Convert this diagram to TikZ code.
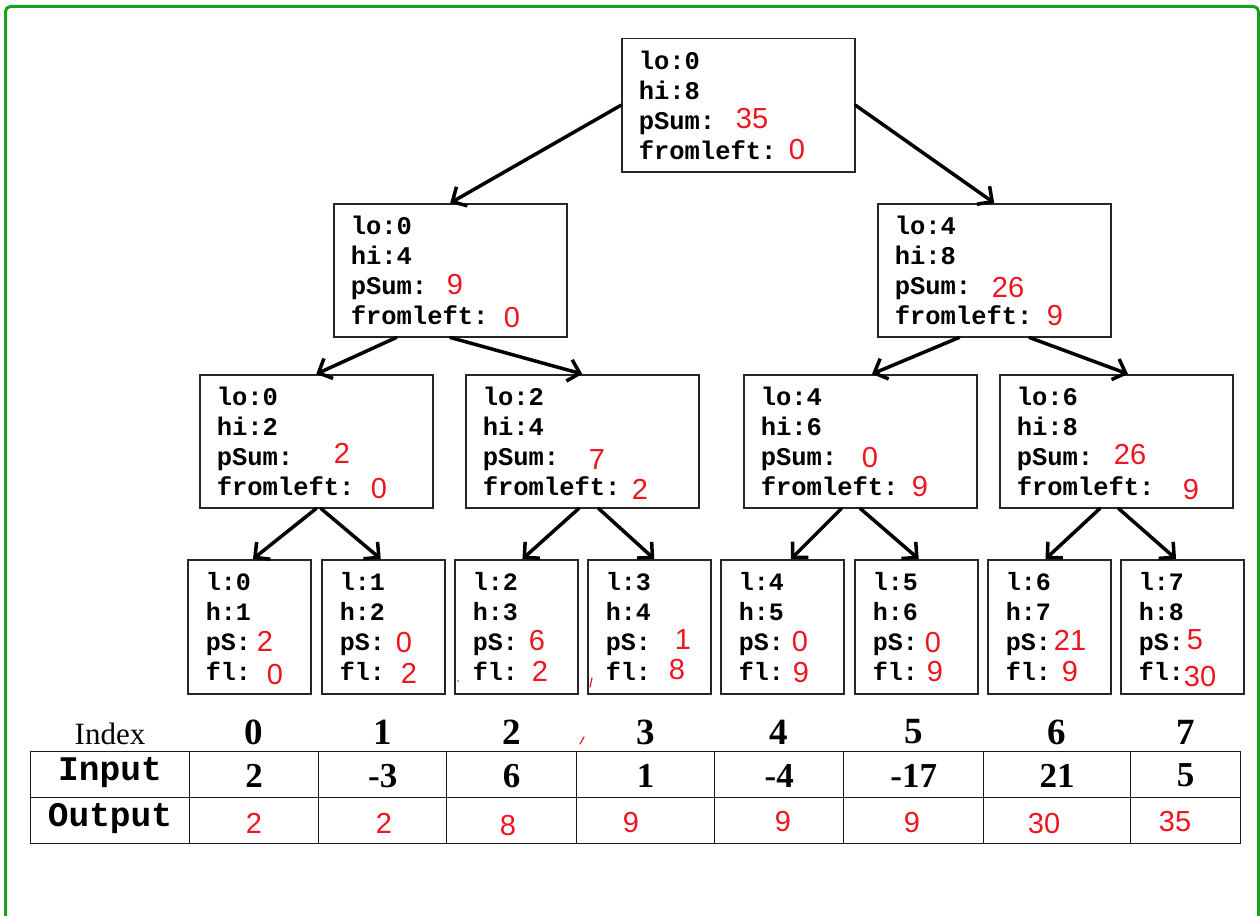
\documentclass[tikz,border=0pt]{standalone}
\usepackage{fontspec}
\newfontfamily\monofont{Liberation Mono}
\newfontfamily\serifont{Liberation Serif}
\newfontfamily\handfont{Liberation Sans}
\usetikzlibrary{arrows.meta,calc}
\definecolor{frame}{RGB}{26,160,26}
\definecolor{ink}{RGB}{240,20,30}
\begin{document}
\begin{tikzpicture}[x=1pt,y=-1pt,
  bigbox/.style={draw=black!85, line width=1.5pt, align=left, inner xsep=17pt, inner ysep=0pt,
    minimum height=133pt, text width=199pt, anchor=north west,
    font=\monofont\bfseries\fontsize{25.5}{30}\selectfont},
  leafbox/.style={draw=black!85, line width=1.5pt, align=left, inner xsep=18pt, inner ysep=0pt,
    minimum height=134pt, text width=87pt, anchor=north west,
    font=\monofont\bfseries\fontsize{25}{30}\selectfont},
  arr/.style={-{Straight Barb[length=11pt,width=22pt]}, line width=3.5pt, line cap=round},
  rv/.style={text=ink, inner sep=0pt, font=\handfont\fontsize{29}{30}\selectfont},
  cell/.style={draw=black!90, line width=1.4pt, minimum height=46pt, inner sep=0pt, anchor=north west},
  idx/.style={inner sep=0pt, font=\serifont\bfseries\fontsize{37}{40}\selectfont},
  inval/.style={inner sep=0pt, font=\serifont\bfseries\fontsize{35}{38}\selectfont},
  lab/.style={inner sep=0pt, font=\monofont\bfseries\fontsize{34.5}{36}\selectfont},
  stroke/.style={draw=ink, line width=1.2pt, line cap=round}
]
\useasboundingbox (0,0) rectangle (1260,915);
\draw[frame, line width=3pt, rounded corners=5pt] (5.5,6.5) -- (1258.5,6.5) -- (1258.5,930) -- (5.5,930) -- cycle;

% tree boxes
\node[bigbox] (root) at (621,38) {lo:0\\hi:8\\pSum:\\fromleft:};
\node[bigbox] (l1a) at (333,203) {lo:0\\hi:4\\pSum:\\fromleft:};
\node[bigbox] (l1b) at (877,203) {lo:4\\hi:8\\pSum:\\fromleft:};
\node[bigbox] (A) at (199,374) {lo:0\\hi:2\\pSum:\\fromleft:};
\node[bigbox] (B) at (465,374) {lo:2\\hi:4\\pSum:\\fromleft:};
\node[bigbox] (C) at (743,374) {lo:4\\hi:6\\pSum:\\fromleft:};
\node[bigbox] (D) at (999,374) {lo:6\\hi:8\\pSum:\\fromleft:};
\node[leafbox] (f0) at (187,559) {l:0\\h:1\\pS:\\fl:};
\node[leafbox] (f1) at (321,559) {l:1\\h:2\\pS:\\fl:};
\node[leafbox] (f2) at (454,559) {l:2\\h:3\\pS:\\fl:};
\node[leafbox] (f3) at (587,559) {l:3\\h:4\\pS:\\fl:};
\node[leafbox] (f4) at (720,559) {l:4\\h:5\\pS:\\fl:};
\node[leafbox] (f5) at (854,559) {l:5\\h:6\\pS:\\fl:};
\node[leafbox] (f6) at (987,559) {l:6\\h:7\\pS:\\fl:};
\node[leafbox] (f7) at (1120,559) {l:7\\h:8\\pS:\\fl:};

% arrows
\draw[arr] (root.west) -- (l1a.north);
\draw[arr] (root.east) -- (l1b.north);
\draw[arr] ($(l1a.south west)!0.27!(l1a.south east)$) -- ($(A.north west)!0.5!(A.north east)$);
\draw[arr] ($(l1a.south west)!0.5!(l1a.south east)$) -- ($(B.north west)!0.5!(B.north east)$);
\draw[arr] ($(l1b.south west)!0.35!(l1b.south east)$) -- ($(C.north west)!0.55!(C.north east)$);
\draw[arr] ($(l1b.south west)!0.65!(l1b.south east)$) -- ($(D.north west)!0.55!(D.north east)$);
\draw[arr] ($(A.south west)!0.5!(A.south east)$) -- ($(f0.north west)!0.53!(f0.north east)$);
\draw[arr] ($(A.south west)!0.52!(A.south east)$) -- ($(f1.north west)!0.48!(f1.north east)$);
\draw[arr] ($(B.south west)!0.485!(B.south east)$) -- ($(f2.north west)!0.55!(f2.north east)$);
\draw[arr] ($(B.south west)!0.57!(B.south east)$) -- ($(f3.north west)!0.54!(f3.north east)$);
\draw[arr] ($(C.south west)!0.42!(C.south east)$) -- ($(f4.north west)!0.57!(f4.north east)$);
\draw[arr] ($(C.south west)!0.5!(C.south east)$) -- ($(f5.north west)!0.52!(f5.north east)$);
\draw[arr] ($(D.south west)!0.43!(D.south east)$) -- ($(f6.north west)!0.47!(f6.north east)$);
\draw[arr] ($(D.south west)!0.51!(D.south east)$) -- ($(f7.north west)!0.45!(f7.north east)$);

% red handwritten values in tree
\node[rv] (rp) at (752,119) {35};
\node[rv] (rf) at (797,150) {0};
\node[rv] (ap) at (455,285) {9};
\node[rv] (af) at (512,318) {0};
\node[rv] (bp) at (1008,288) {26};
\node[rv] (bf) at (1055,316) {9};
\node[rv] (Ap) at (342,453) {2};
\node[rv] (Af) at (379,489) {0};
\node[rv] (Bp) at (597,460) {7};
\node[rv] (Bf) at (640,489) {2};
\node[rv] (Cp) at (870,458) {0};
\node[rv] (Cf) at (920,487) {9};
\node[rv] (Dp) at (1130,455) {26};
\node[rv] (Df) at (1191,490) {9};
\node[rv] (f0p) at (265,641) {2};
\node[rv] (f0f) at (275,675) {0};
\node[rv] (f1p) at (404,643) {0};
\node[rv] (f1f) at (409,673) {2};
\node[rv] (f2p) at (537,641) {6};
\node[rv] (f2f) at (540,671) {2};
\node[rv] (f3p) at (683,640) {1};
\node[rv] (f3f) at (677,670) {8};
\node[rv] (f4p) at (800,642) {0};
\node[rv] (f4f) at (801,673) {9};
\node[rv] (f5p) at (933,643) {0};
\node[rv] (f5f) at (935,672) {9};
\node[rv] (f6p) at (1070,640) {21};
\node[rv] (f6f) at (1070,672) {9};
\node[rv] (f7p) at (1195,640) {5};
\node[rv] (f7f) at (1200,677) {30};

% stray pen marks
\draw[stroke] (590,687) -- (592,678);
\draw[stroke] (580,744) -- (584,737);
\fill[ink] (458,681) circle (0.9);

% table
\node[inner sep=0pt, font=\serifont\fontsize{31}{34}\selectfont] (index) at (110,734) {Index};
\node[cell, minimum width=159pt] (hin) at (30,751) {};
\node[cell, minimum width=159pt] (hout) at (30,797) {};
\node[lab] (tin) at (110,773) {Input};
\node[lab] (tout) at (110,819) {Output};
\foreach \i/\a/\b/\iv/\ov in {0/189/318/2/2, 1/318/446/-3/2, 2/446/576/6/8, 3/576/714/1/9, 4/714/843/-4/9, 5/843/983/-17/9, 6/983/1130/21/30, 7/1130/1240/5/35}{
  \pgfmathsetmacro{\w}{\b-\a}
  \node[cell, minimum width=\w pt] (in\i) at (\a,751) {};
  \node[cell, minimum width=\w pt] (out\i) at (\a,797) {};
  \node[idx] (ix\i) at ($(in\i.north)+(0,-19)$) {\i};
  \node[inval] (iv\i) at ($(in\i.center)+(0,1)$) {\iv};
}
\node[rv] (o0) at (254,823) {2};
\node[rv] (o1) at (384,823) {2};
\node[rv] (o2) at (508,826) {8};
\node[rv] (o3) at (631,823) {9};
\node[rv] (o4) at (783,822) {9};
\node[rv] (o5) at (912,823) {9};
\node[rv] (o6) at (1044,824) {30};
\node[rv] (o7) at (1175,822) {35};
\end{tikzpicture}
\end{document}
